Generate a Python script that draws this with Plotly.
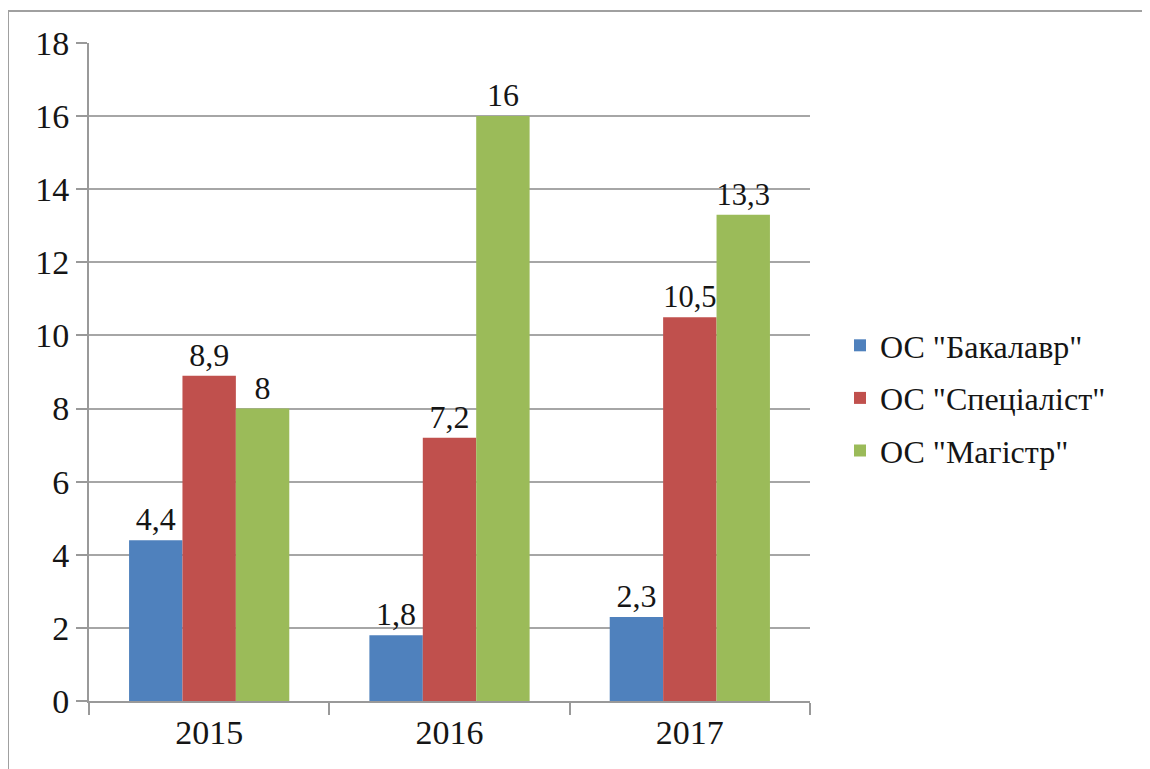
import plotly.graph_objects as go

years = ["2015", "2016", "2017"]
bachelor = [4.4, 1.8, 2.3]
specialist = [8.9, 7.2, 10.5]
master = [8, 16, 13.3]
series_names = ['ОС "Бакалавр"', 'ОС "Спеціаліст"', 'ОС "Магістр"']
colors = ["#4F81BD", "#C0504D", "#9BBB59"]
y_ticks = [0, 2, 4, 6, 8, 10, 12, 14, 16, 18]

FONT = "Liberation Serif"
TXT = "#151515"

def lab(v):
    return str(v).replace(".", ",")

fig = go.Figure()
for name, vals, col in zip(series_names, [bachelor, specialist, master], colors):
    fig.add_trace(go.Bar(
        x=years, y=vals, name=name, legendgroup=name,
        marker=dict(color=col, line=dict(width=0)),
        text=[lab(v) for v in vals], textposition="outside",
        textfont=dict(family=FONT, size=32, color=TXT),
    ))

OFF = 8  # page body margin
W, H = 1150, 769
L, T = 89 - OFF, 43 - OFF
R = W - (810 - OFF)
B = H - (701 - OFF)
pw, ph = W - L - R, H - T - B

fig.update_layout(
    width=W, height=H,
    margin=dict(l=L, r=R, t=T, b=B),
    paper_bgcolor="white", plot_bgcolor="white",
    bargap=1/3, bargroupgap=0,
    font=dict(family=FONT, size=32, color=TXT),
    legend=dict(x=(840 - OFF - L) / pw, y=(701 - 398) / ph, xanchor="left", yanchor="middle",
                font=dict(family=FONT, size=32, color=TXT), tracegroupgap=8),
    xaxis=dict(type="category", tickson="boundaries", ticks="outside", ticklen=12,
               tickcolor="#999999", tickwidth=2, showline=True, linecolor="#999999",
               linewidth=2, showgrid=False, tickfont=dict(family=FONT, size=34, color=TXT)),
    yaxis=dict(range=[0, 18], tickvals=y_ticks, ticks="outside", ticklen=11,
               tickcolor="#999999", tickwidth=2, showline=True, linecolor="#999999",
               linewidth=2, showgrid=True, gridcolor="#A6A6A6", gridwidth=2,
               zeroline=False, ticksuffix="\u00a0\u00a0",
               tickfont=dict(family=FONT, size=34, color=TXT)),
)
fig.add_shape(type="rect", xref="paper", yref="paper",
              x0=(8 - OFF - L) / pw, x1=(1250 - OFF - L) / pw,
              y0=-0.3, y1=1 + (T - (11 - OFF)) / ph,
              line=dict(color="#A0A0A0", width=2), layer="below")

fig.write_html("out.html")
